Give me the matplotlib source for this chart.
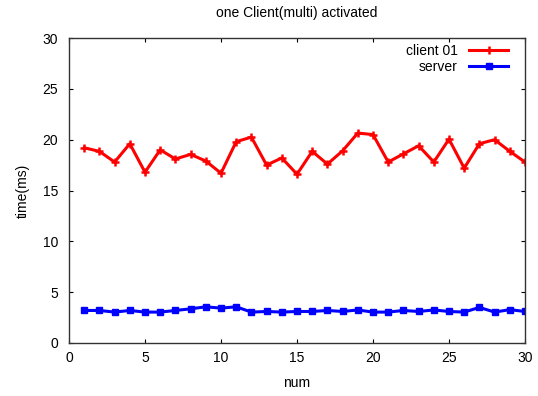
import matplotlib
matplotlib.use('Agg')
import matplotlib.pyplot as plt

plt.rcParams['font.family'] = ['Liberation Sans', 'DejaVu Sans']
plt.rcParams['font.size'] = 10

num = list(range(1, 31))
client01 = [19.2, 18.85, 17.8, 19.6, 16.8, 19.0, 18.1, 18.55, 17.9, 16.7,
            19.8, 20.25, 17.5, 18.2, 16.6, 18.85, 17.6, 18.9, 20.65, 20.5,
            17.8, 18.6, 19.4, 17.8, 20.05, 17.2, 19.6, 20.0, 18.85, 17.8]
server = [3.2, 3.2, 3.04, 3.2, 3.04, 3.04, 3.2, 3.36, 3.56, 3.43,
          3.56, 3.04, 3.1, 3.04, 3.1, 3.1, 3.2, 3.1, 3.25, 3.04,
          3.04, 3.2, 3.1, 3.25, 3.1, 3.04, 3.5, 3.04, 3.28, 3.1]

fig = plt.figure(figsize=(5.38, 3.96), dpi=100)
ax = fig.add_axes([69 / 538, 1 - 343 / 396, 456 / 538, 305 / 396])

ax.plot(num, client01, color='#ff0000', lw=2.2, marker='+', ms=6, mew=1.8,
        label='client 01')
ax.plot(num, server, color='#0000ff', lw=2.2, marker='s', ms=4.5,
        label='server')

ax.set_xlim(0, 30)
ax.set_ylim(0, 30)
ax.set_xticks(range(0, 31, 5))
ax.set_yticks(range(0, 31, 5))
ax.tick_params(direction='in', top=True, right=True, length=3, width=0.8,
               labelsize=10)
ax.tick_params(axis='y', pad=8)
ax.tick_params(axis='x', pad=6)
for s in ax.spines.values():
    s.set_linewidth(1.0)
    s.set_color('#333333')

ax.set_xlabel('num', labelpad=8)
ax.set_ylabel('time(ms)', labelpad=9)
ax.set_title('one Client(multi) activated', pad=15, fontsize=10)

leg = ax.legend(loc='upper right', bbox_to_anchor=(0.963, 0.98),
                frameon=False, markerfirst=False, borderpad=0,
                borderaxespad=0, handlelength=2.8, handletextpad=0.85,
                labelspacing=0.12, fontsize=10, numpoints=1)

fig.savefig('out.png', dpi=100)
